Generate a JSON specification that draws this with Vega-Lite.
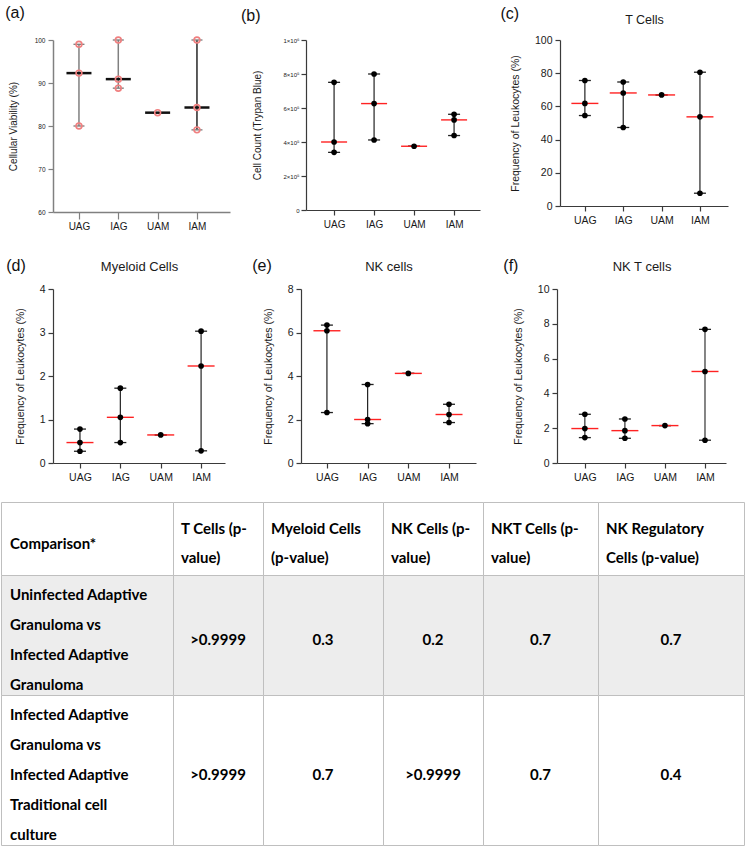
{
"$schema": "https://vega.github.io/schema/vega-lite/v6.json",
"padding": {"left": 0, "top": 4, "right": 0, "bottom": 0},
"background": "white",
"config": {
 "view": {"stroke": null},
 "font": "Liberation Sans",
 "axis": {"grid": false, "labelFont": "Liberation Sans", "titleFont": "Liberation Sans", "titleFontWeight": "normal", "labelColor": "#1a1a1a", "titleColor": "#1a1a1a", "domainColor": "#3a3a3a", "tickColor": "#3a3a3a", "domainWidth": 1.2, "tickWidth": 1.2},
 "axisX": {"labelAngle": 0, "labelFontSize": 10.5, "tickSize": 5, "labelPadding": 4},
 "axisY": {"labelFontSize": 10.5, "titleFontSize": 10.5, "tickSize": 5, "labelPadding": 3, "titlePadding": 14, "tickCount": 12},
 "title": {"font": "Liberation Sans", "fontWeight": "normal", "fontSize": 16, "anchor": "start", "frame": "bounds", "color": "#111"}
},
"spacing": 18,
"vconcat": [
 {"spacing": 27, "vconcat": [
  {"hconcat": [
   {"width": 52, "height": 10, "data": {"values": []}, "mark": {"type": "point", "opacity": 0}},
   {"width": 177, "height": 172,
    "title": {"text": "(a)", "offset": 15, "dx": -3, "dy": 2},
    "data": {"values": [{"g":"UAG","v":99},{"g":"UAG","v":92.3},{"g":"UAG","v":80},{"g":"IAG","v":100},{"g":"IAG","v":90.9},{"g":"IAG","v":88.8},{"g":"UAM","v":83.1},{"g":"IAM","v":100},{"g":"IAM","v":84.3},{"g":"IAM","v":79.1}]},
    "layer": [
     {"mark": {"type": "rule", "strokeWidth": 1.5},
      "encoding": {"x": {"field":"g","type":"nominal","sort":["UAG","IAG","UAM","IAM"],"title":null,"scale":{"type":"point","padding":0.75,"align":0.44},"axis":{"labelFontSize":10,"tickSize":7,"labelPadding":2,"domainColor":"#808080","tickColor":"#808080","domainWidth":1.5}},
       "y": {"aggregate":"min","field":"v","type":"quantitative","title":"Cellular Viability (%)","scale":{"domain":[60,100],"nice":false,"zero":false},"axis":{"values":[60,70,80,90,100],"format":"d","labelFontSize":6.5,"titleFontSize":10,"titlePadding":16,"domainColor":"#808080","tickColor":"#808080","domainWidth":1.5}},
       "y2": {"aggregate":"max","field":"v"},
       "color": {"field":"g","type":"nominal","scale":{"domain":["UAG","IAG","UAM","IAM"],"range":["#808080","#808080","#808080","#262626"]},"legend":null}}},
     {"mark": {"type": "tick", "color": "#7a7a7a", "size": 11, "thickness": 1.3},
      "encoding": {"x": {"field":"g","type":"nominal","sort":["UAG","IAG","UAM","IAM"],"title":null,"scale":{"type":"point","padding":0.75,"align":0.44}},
       "y": {"aggregate":"min","field":"v","type":"quantitative","title":"Cellular Viability (%)","scale":{"domain":[60,100],"nice":false,"zero":false}}}},
     {"mark": {"type": "tick", "color": "#7a7a7a", "size": 11, "thickness": 1.3},
      "encoding": {"x": {"field":"g","type":"nominal","sort":["UAG","IAG","UAM","IAM"],"title":null,"scale":{"type":"point","padding":0.75,"align":0.44}},
       "y": {"aggregate":"max","field":"v","type":"quantitative","title":"Cellular Viability (%)","scale":{"domain":[60,100],"nice":false,"zero":false}}}},
     {"mark": {"type": "tick", "color": "#111", "size": 25, "thickness": 2.5},
      "encoding": {"x": {"field":"g","type":"nominal","sort":["UAG","IAG","UAM","IAM"],"title":null,"scale":{"type":"point","padding":0.75,"align":0.44}},
       "y": {"aggregate":"median","field":"v","type":"quantitative","title":"Cellular Viability (%)","scale":{"domain":[60,100],"nice":false,"zero":false}}}},
     {"mark": {"type": "point", "shape": "circle", "filled": false, "color": "#f08080", "strokeWidth": 1.6, "size": 34, "opacity": 1},
      "encoding": {"x": {"field":"g","type":"nominal","sort":["UAG","IAG","UAM","IAM"],"title":null,"scale":{"type":"point","padding":0.75,"align":0.44}},
       "y": {"field":"v","type":"quantitative","title":"Cellular Viability (%)","scale":{"domain":[60,100],"nice":false,"zero":false}}}}
    ]},
   {"width": 76, "height": 10, "data": {"values": []}, "mark": {"type": "point", "opacity": 0}},
   {"width": 174, "height": 170,
    "title": {"text": "(b)", "offset": 15, "dx": -12, "dy": 2},
    "data": {"values": [{"g":"UAG","v":751000},{"g":"UAG","v":400000},{"g":"UAG","v":339000},{"g":"IAG","v":800000},{"g":"IAG","v":626000},{"g":"IAG","v":412000},{"g":"UAM","v":375000},{"g":"IAM","v":563000},{"g":"IAM","v":530000},{"g":"IAM","v":438000}]},
    "layer": [
     {"mark": {"type": "rule", "color": "#222", "strokeWidth": 1.2},
      "encoding": {"x": {"field":"g","type":"nominal","sort":["UAG","IAG","UAM","IAM"],"title":null,"scale":{"type":"point","padding":0.675,"align":0.52},"axis":{"labelFontSize":10,"tickSize":5,"labelPadding":4}},
       "y": {"aggregate":"min","field":"v","type":"quantitative","title":"Cell Count (Trypan Blue)","scale":{"domain":[0,1000000],"nice":false},"axis":{"values":[0,200000,400000,600000,800000,1000000],"labelExpr":"datum.value == 0 ? '0' : datum.value == 1000000 ? '1×10⁶' : (datum.value/100000) + '×10⁵'","labelFontSize":6,"titleFontSize":10,"titlePadding":20,"labelPadding":2}},
       "y2": {"aggregate":"max","field":"v"}}},
     {"mark": {"type": "tick", "color": "#222", "size": 12, "thickness": 1.3},
      "encoding": {"x": {"field":"g","type":"nominal","sort":["UAG","IAG","UAM","IAM"],"title":null,"scale":{"type":"point","padding":0.675,"align":0.52}},
       "y": {"aggregate":"min","field":"v","type":"quantitative","title":"Cell Count (Trypan Blue)","scale":{"domain":[0,1000000],"nice":false}}}},
     {"mark": {"type": "tick", "color": "#222", "size": 12, "thickness": 1.3},
      "encoding": {"x": {"field":"g","type":"nominal","sort":["UAG","IAG","UAM","IAM"],"title":null,"scale":{"type":"point","padding":0.675,"align":0.52}},
       "y": {"aggregate":"max","field":"v","type":"quantitative","title":"Cell Count (Trypan Blue)","scale":{"domain":[0,1000000],"nice":false}}}},
     {"mark": {"type": "tick", "color": "#f22", "size": 26, "thickness": 1.4},
      "encoding": {"x": {"field":"g","type":"nominal","sort":["UAG","IAG","UAM","IAM"],"title":null,"scale":{"type":"point","padding":0.675,"align":0.52}},
       "y": {"aggregate":"median","field":"v","type":"quantitative","title":"Cell Count (Trypan Blue)","scale":{"domain":[0,1000000],"nice":false}}}},
     {"mark": {"type": "circle", "color": "#000", "size": 32, "opacity": 1},
      "encoding": {"x": {"field":"g","type":"nominal","sort":["UAG","IAG","UAM","IAM"],"title":null,"scale":{"type":"point","padding":0.675,"align":0.52}},
       "y": {"field":"v","type":"quantitative","title":"Cell Count (Trypan Blue)","scale":{"domain":[0,1000000],"nice":false}}}}
    ]},
   {"width": 80, "height": 10, "data": {"values": []}, "mark": {"type": "point", "opacity": 0}},
   {"width": 168, "height": 166,
    "title": {"text": "(c)", "offset": 0, "dy": 9, "dx": -10},
    "data": {"values": [{"g":"UAG","v":75.6},{"g":"UAG","v":61.8},{"g":"UAG","v":54.5},{"g":"IAG","v":74.7},{"g":"IAG","v":68.1},{"g":"IAG","v":47.3},{"g":"UAM","v":66.9},{"g":"IAM","v":80.6},{"g":"IAM","v":53.7},{"g":"IAM","v":7.7}]},
    "resolve": {"axis": {"x": "independent"}},
    "layer": [
     {"mark": {"type": "rule", "color": "#222", "strokeWidth": 1.2},
      "encoding": {"x": {"field":"g","type":"nominal","sort":["UAG","IAG","UAM","IAM"],"title":null,"scale":{"type":"point","padding":0.69,"align":0.47}},
       "y": {"aggregate":"min","field":"v","type":"quantitative","title":"Frequency of Leukocytes (%)","scale":{"domain":[0,100],"nice":false},"axis":{"values":[0,20,40,60,80,100],"format":"d"}},
       "y2": {"aggregate":"max","field":"v"}}},
     {"mark": {"type": "tick", "color": "#222", "size": 12, "thickness": 1.3},
      "encoding": {"x": {"field":"g","type":"nominal","sort":["UAG","IAG","UAM","IAM"],"title":null,"scale":{"type":"point","padding":0.69,"align":0.47},"axis":null},
       "y": {"aggregate":"min","field":"v","type":"quantitative","title":"Frequency of Leukocytes (%)","scale":{"domain":[0,100],"nice":false}}}},
     {"mark": {"type": "tick", "color": "#222", "size": 12, "thickness": 1.3},
      "encoding": {"x": {"field":"g","type":"nominal","sort":["UAG","IAG","UAM","IAM"],"title":null,"scale":{"type":"point","padding":0.69,"align":0.47},"axis":null},
       "y": {"aggregate":"max","field":"v","type":"quantitative","title":"Frequency of Leukocytes (%)","scale":{"domain":[0,100],"nice":false}}}},
     {"mark": {"type": "tick", "color": "#f22", "size": 27, "thickness": 1.4},
      "encoding": {"x": {"field":"g","type":"nominal","sort":["UAG","IAG","UAM","IAM"],"title":null,"scale":{"type":"point","padding":0.69,"align":0.47},"axis":{"orient":"top","title":"T Cells","labels":false,"ticks":false,"domain":false,"titleFontSize":12.5,"titlePadding":14}},
       "y": {"aggregate":"median","field":"v","type":"quantitative","title":"Frequency of Leukocytes (%)","scale":{"domain":[0,100],"nice":false}}}},
     {"mark": {"type": "circle", "color": "#000", "size": 32, "opacity": 1},
      "encoding": {"x": {"field":"g","type":"nominal","sort":["UAG","IAG","UAM","IAM"],"title":null,"scale":{"type":"point","padding":0.69,"align":0.47},"axis":null},
       "y": {"field":"v","type":"quantitative","title":"Frequency of Leukocytes (%)","scale":{"domain":[0,100],"nice":false}}}}
    ]}
  ], "spacing": 0, "bounds": "flush"},
  {"hconcat": [
   {"width": 52, "height": 10, "data": {"values": []}, "mark": {"type": "point", "opacity": 0}},
   {"width": 172, "height": 174,
    "title": {"text": "(d)", "offset": 0, "dy": 14, "dx": -9},
    "data": {"values": [{"g":"UAG","v":0.78},{"g":"UAG","v":0.47},{"g":"UAG","v":0.27},{"g":"IAG","v":1.72},{"g":"IAG","v":1.05},{"g":"IAG","v":0.47},{"g":"UAM","v":0.645},{"g":"IAM","v":3.03},{"g":"IAM","v":2.23},{"g":"IAM","v":0.28}]},
    "resolve": {"axis": {"x": "independent"}},
    "layer": [
     {"mark": {"type": "rule", "color": "#222", "strokeWidth": 1.2},
      "encoding": {"x": {"field":"g","type":"nominal","sort":["UAG","IAG","UAM","IAM"],"title":null,"scale":{"type":"point","padding":0.63,"align":0.53}},
       "y": {"aggregate":"min","field":"v","type":"quantitative","title":"Frequency of Leukocytes (%)","scale":{"domain":[0,4],"nice":false},"axis":{"values":[0,1,2,3,4],"format":"d"}},
       "y2": {"aggregate":"max","field":"v"}}},
     {"mark": {"type": "tick", "color": "#222", "size": 12, "thickness": 1.3},
      "encoding": {"x": {"field":"g","type":"nominal","sort":["UAG","IAG","UAM","IAM"],"title":null,"scale":{"type":"point","padding":0.63,"align":0.53},"axis":null},
       "y": {"aggregate":"min","field":"v","type":"quantitative","title":"Frequency of Leukocytes (%)","scale":{"domain":[0,4],"nice":false}}}},
     {"mark": {"type": "tick", "color": "#222", "size": 12, "thickness": 1.3},
      "encoding": {"x": {"field":"g","type":"nominal","sort":["UAG","IAG","UAM","IAM"],"title":null,"scale":{"type":"point","padding":0.63,"align":0.53},"axis":null},
       "y": {"aggregate":"max","field":"v","type":"quantitative","title":"Frequency of Leukocytes (%)","scale":{"domain":[0,4],"nice":false}}}},
     {"mark": {"type": "tick", "color": "#f22", "size": 27, "thickness": 1.4},
      "encoding": {"x": {"field":"g","type":"nominal","sort":["UAG","IAG","UAM","IAM"],"title":null,"scale":{"type":"point","padding":0.63,"align":0.53},"axis":{"orient":"top","title":"Myeloid Cells","labels":false,"ticks":false,"domain":false,"titleFontSize":13,"titlePadding":16}},
       "y": {"aggregate":"median","field":"v","type":"quantitative","title":"Frequency of Leukocytes (%)","scale":{"domain":[0,4],"nice":false}}}},
     {"mark": {"type": "circle", "color": "#000", "size": 32, "opacity": 1},
      "encoding": {"x": {"field":"g","type":"nominal","sort":["UAG","IAG","UAM","IAM"],"title":null,"scale":{"type":"point","padding":0.63,"align":0.53},"axis":null},
       "y": {"field":"v","type":"quantitative","title":"Frequency of Leukocytes (%)","scale":{"domain":[0,4],"nice":false}}}}
    ]},
   {"width": 76, "height": 10, "data": {"values": []}, "mark": {"type": "point", "opacity": 0}},
   {"width": 175, "height": 174,
    "title": {"text": "(e)", "offset": 0, "dy": 14, "dx": -11},
    "data": {"values": [{"g":"UAG","v":6.34},{"g":"UAG","v":6.08},{"g":"UAG","v":2.32},{"g":"IAG","v":3.61},{"g":"IAG","v":2.0},{"g":"IAG","v":1.81},{"g":"UAM","v":4.12},{"g":"IAM","v":2.7},{"g":"IAM","v":2.23},{"g":"IAM","v":1.86}]},
    "resolve": {"axis": {"x": "independent"}},
    "layer": [
     {"mark": {"type": "rule", "color": "#222", "strokeWidth": 1.2},
      "encoding": {"x": {"field":"g","type":"nominal","sort":["UAG","IAG","UAM","IAM"],"title":null,"scale":{"type":"point","padding":0.65,"align":0.49}},
       "y": {"aggregate":"min","field":"v","type":"quantitative","title":"Frequency of Leukocytes (%)","scale":{"domain":[0,8],"nice":false},"axis":{"values":[0,2,4,6,8],"format":"d"}},
       "y2": {"aggregate":"max","field":"v"}}},
     {"mark": {"type": "tick", "color": "#222", "size": 12, "thickness": 1.3},
      "encoding": {"x": {"field":"g","type":"nominal","sort":["UAG","IAG","UAM","IAM"],"title":null,"scale":{"type":"point","padding":0.65,"align":0.49},"axis":null},
       "y": {"aggregate":"min","field":"v","type":"quantitative","title":"Frequency of Leukocytes (%)","scale":{"domain":[0,8],"nice":false}}}},
     {"mark": {"type": "tick", "color": "#222", "size": 12, "thickness": 1.3},
      "encoding": {"x": {"field":"g","type":"nominal","sort":["UAG","IAG","UAM","IAM"],"title":null,"scale":{"type":"point","padding":0.65,"align":0.49},"axis":null},
       "y": {"aggregate":"max","field":"v","type":"quantitative","title":"Frequency of Leukocytes (%)","scale":{"domain":[0,8],"nice":false}}}},
     {"mark": {"type": "tick", "color": "#f22", "size": 27, "thickness": 1.4},
      "encoding": {"x": {"field":"g","type":"nominal","sort":["UAG","IAG","UAM","IAM"],"title":null,"scale":{"type":"point","padding":0.65,"align":0.49},"axis":{"orient":"top","title":"NK cells","labels":false,"ticks":false,"domain":false,"titleFontSize":13,"titlePadding":16}},
       "y": {"aggregate":"median","field":"v","type":"quantitative","title":"Frequency of Leukocytes (%)","scale":{"domain":[0,8],"nice":false}}}},
     {"mark": {"type": "circle", "color": "#000", "size": 32, "opacity": 1},
      "encoding": {"x": {"field":"g","type":"nominal","sort":["UAG","IAG","UAM","IAM"],"title":null,"scale":{"type":"point","padding":0.65,"align":0.49},"axis":null},
       "y": {"field":"v","type":"quantitative","title":"Frequency of Leukocytes (%)","scale":{"domain":[0,8],"nice":false}}}}
    ]},
   {"width": 81, "height": 10, "data": {"values": []}, "mark": {"type": "point", "opacity": 0}},
   {"width": 169, "height": 174,
    "title": {"text": "(f)", "offset": 0, "dy": 14, "dx": -10},
    "data": {"values": [{"g":"UAG","v":2.8},{"g":"UAG","v":1.98},{"g":"UAG","v":1.46},{"g":"IAG","v":2.53},{"g":"IAG","v":1.86},{"g":"IAG","v":1.42},{"g":"UAM","v":2.15},{"g":"IAM","v":7.68},{"g":"IAM","v":5.26},{"g":"IAM","v":1.31}]},
    "resolve": {"axis": {"x": "independent"}},
    "layer": [
     {"mark": {"type": "rule", "color": "#333", "strokeWidth": 1.2},
      "encoding": {"x": {"field":"g","type":"nominal","sort":["UAG","IAG","UAM","IAM"],"title":null,"scale":{"type":"point","padding":0.61,"align":0.57}},
       "y": {"aggregate":"min","field":"v","type":"quantitative","title":"Frequency of Leukocytes (%)","scale":{"domain":[0,10],"nice":false},"axis":{"values":[0,2,4,6,8,10],"format":"d"}},
       "y2": {"aggregate":"max","field":"v"}}},
     {"mark": {"type": "tick", "color": "#222", "size": 12, "thickness": 1.3},
      "encoding": {"x": {"field":"g","type":"nominal","sort":["UAG","IAG","UAM","IAM"],"title":null,"scale":{"type":"point","padding":0.61,"align":0.57},"axis":null},
       "y": {"aggregate":"min","field":"v","type":"quantitative","title":"Frequency of Leukocytes (%)","scale":{"domain":[0,10],"nice":false}}}},
     {"mark": {"type": "tick", "color": "#222", "size": 12, "thickness": 1.3},
      "encoding": {"x": {"field":"g","type":"nominal","sort":["UAG","IAG","UAM","IAM"],"title":null,"scale":{"type":"point","padding":0.61,"align":0.57},"axis":null},
       "y": {"aggregate":"max","field":"v","type":"quantitative","title":"Frequency of Leukocytes (%)","scale":{"domain":[0,10],"nice":false}}}},
     {"mark": {"type": "tick", "color": "#f22", "size": 27, "thickness": 1.4},
      "encoding": {"x": {"field":"g","type":"nominal","sort":["UAG","IAG","UAM","IAM"],"title":null,"scale":{"type":"point","padding":0.61,"align":0.57},"axis":{"orient":"top","title":"NK T cells","labels":false,"ticks":false,"domain":false,"titleFontSize":13,"titlePadding":16}},
       "y": {"aggregate":"median","field":"v","type":"quantitative","title":"Frequency of Leukocytes (%)","scale":{"domain":[0,10],"nice":false}}}},
     {"mark": {"type": "circle", "color": "#000", "size": 32, "opacity": 1},
      "encoding": {"x": {"field":"g","type":"nominal","sort":["UAG","IAG","UAM","IAM"],"title":null,"scale":{"type":"point","padding":0.61,"align":0.57},"axis":null},
       "y": {"field":"v","type":"quantitative","title":"Frequency of Leukocytes (%)","scale":{"domain":[0,10],"nice":false}}}}
    ]}
  ], "spacing": 0, "bounds": "flush"}
 ]},
 {"concat": [
  {"width": 172, "height": 73, "view": {"fill": "#ffffff", "stroke": "#bfbfbf"},
   "data": {"values": [{"l":0,"t":"Comparison*"}]},
   "mark": {"type":"text","align":"left","baseline":"middle","dx":9,"dy":5,"font":"Lato","fontSize":15,"fontWeight":"bold","color":"#000"},
   "encoding": {"x":{"datum":"a","type":"nominal","scale":{"type":"point","align":0},"axis":null},"y":{"field":"l","type":"ordinal","scale":{"type":"point","padding":0.72},"axis":null},"text":{"field":"t"}}},
  {"width": 90, "height": 73, "view": {"fill": "#ffffff", "stroke": "#bfbfbf"},
   "data": {"values": [{"l":0,"t":"T Cells (p-"},{"l":1,"t":"value)"}]},
   "mark": {"type":"text","align":"left","baseline":"middle","dx":8,"dy":5,"font":"Lato","fontSize":15,"fontWeight":"bold","color":"#000"},
   "encoding": {"x":{"datum":"a","type":"nominal","scale":{"type":"point","align":0},"axis":null},"y":{"field":"l","type":"ordinal","scale":{"type":"point","padding":0.72},"axis":null},"text":{"field":"t"}}},
  {"width": 120, "height": 73, "view": {"fill": "#ffffff", "stroke": "#bfbfbf"},
   "data": {"values": [{"l":0,"t":"Myeloid Cells"},{"l":1,"t":"(p-value)"}]},
   "mark": {"type":"text","align":"left","baseline":"middle","dx":8,"dy":5,"font":"Lato","fontSize":15,"fontWeight":"bold","color":"#000"},
   "encoding": {"x":{"datum":"a","type":"nominal","scale":{"type":"point","align":0},"axis":null},"y":{"field":"l","type":"ordinal","scale":{"type":"point","padding":0.72},"axis":null},"text":{"field":"t"}}},
  {"width": 100, "height": 73, "view": {"fill": "#ffffff", "stroke": "#bfbfbf"},
   "data": {"values": [{"l":0,"t":"NK Cells (p-"},{"l":1,"t":"value)"}]},
   "mark": {"type":"text","align":"left","baseline":"middle","dx":8,"dy":5,"font":"Lato","fontSize":15,"fontWeight":"bold","color":"#000"},
   "encoding": {"x":{"datum":"a","type":"nominal","scale":{"type":"point","align":0},"axis":null},"y":{"field":"l","type":"ordinal","scale":{"type":"point","padding":0.72},"axis":null},"text":{"field":"t"}}},
  {"width": 115, "height": 73, "view": {"fill": "#ffffff", "stroke": "#bfbfbf"},
   "data": {"values": [{"l":0,"t":"NKT Cells (p-"},{"l":1,"t":"value)"}]},
   "mark": {"type":"text","align":"left","baseline":"middle","dx":8,"dy":5,"font":"Lato","fontSize":15,"fontWeight":"bold","color":"#000"},
   "encoding": {"x":{"datum":"a","type":"nominal","scale":{"type":"point","align":0},"axis":null},"y":{"field":"l","type":"ordinal","scale":{"type":"point","padding":0.72},"axis":null},"text":{"field":"t"}}},
  {"width": 146, "height": 73, "view": {"fill": "#ffffff", "stroke": "#bfbfbf"},
   "data": {"values": [{"l":0,"t":"NK Regulatory"},{"l":1,"t":"Cells (p-value)"}]},
   "mark": {"type":"text","align":"left","baseline":"middle","dx":8,"dy":5,"font":"Lato","fontSize":15,"fontWeight":"bold","color":"#000"},
   "encoding": {"x":{"datum":"a","type":"nominal","scale":{"type":"point","align":0},"axis":null},"y":{"field":"l","type":"ordinal","scale":{"type":"point","padding":0.72},"axis":null},"text":{"field":"t"}}},

  {"width": 172, "height": 120, "view": {"fill": "#ededed", "stroke": "#bfbfbf"},
   "data": {"values": [{"l":0,"t":"Uninfected Adaptive"},{"l":1,"t":"Granuloma vs"},{"l":2,"t":"Infected Adaptive"},{"l":3,"t":"Granuloma"}]},
   "mark": {"type":"text","align":"left","baseline":"middle","dx":9,"dy":5,"font":"Lato","fontSize":15,"fontWeight":"bold","color":"#000"},
   "encoding": {"x":{"datum":"a","type":"nominal","scale":{"type":"point","align":0},"axis":null},"y":{"field":"l","type":"ordinal","scale":{"type":"point","padding":0.5},"axis":null},"text":{"field":"t"}}},
  {"width": 90, "height": 120, "view": {"fill": "#ededed", "stroke": "#bfbfbf"},
   "data": {"values": [{"l":0,"t":">0.9999"}]},
   "mark": {"type":"text","align":"center","baseline":"middle","dy":5,"font":"Lato","fontSize":15,"fontWeight":"bold","color":"#000"},
   "encoding": {"x":{"datum":"a","type":"nominal","scale":{"type":"point"},"axis":null},"y":{"field":"l","type":"ordinal","scale":{"type":"point"},"axis":null},"text":{"field":"t"}}},
  {"width": 120, "height": 120, "view": {"fill": "#ededed", "stroke": "#bfbfbf"},
   "data": {"values": [{"l":0,"t":"0.3"}]},
   "mark": {"type":"text","align":"center","baseline":"middle","dy":5,"font":"Lato","fontSize":15,"fontWeight":"bold","color":"#000"},
   "encoding": {"x":{"datum":"a","type":"nominal","scale":{"type":"point"},"axis":null},"y":{"field":"l","type":"ordinal","scale":{"type":"point"},"axis":null},"text":{"field":"t"}}},
  {"width": 100, "height": 120, "view": {"fill": "#ededed", "stroke": "#bfbfbf"},
   "data": {"values": [{"l":0,"t":"0.2"}]},
   "mark": {"type":"text","align":"center","baseline":"middle","dy":5,"font":"Lato","fontSize":15,"fontWeight":"bold","color":"#000"},
   "encoding": {"x":{"datum":"a","type":"nominal","scale":{"type":"point"},"axis":null},"y":{"field":"l","type":"ordinal","scale":{"type":"point"},"axis":null},"text":{"field":"t"}}},
  {"width": 115, "height": 120, "view": {"fill": "#ededed", "stroke": "#bfbfbf"},
   "data": {"values": [{"l":0,"t":"0.7"}]},
   "mark": {"type":"text","align":"center","baseline":"middle","dy":5,"font":"Lato","fontSize":15,"fontWeight":"bold","color":"#000"},
   "encoding": {"x":{"datum":"a","type":"nominal","scale":{"type":"point"},"axis":null},"y":{"field":"l","type":"ordinal","scale":{"type":"point"},"axis":null},"text":{"field":"t"}}},
  {"width": 146, "height": 120, "view": {"fill": "#ededed", "stroke": "#bfbfbf"},
   "data": {"values": [{"l":0,"t":"0.7"}]},
   "mark": {"type":"text","align":"center","baseline":"middle","dy":5,"font":"Lato","fontSize":15,"fontWeight":"bold","color":"#000"},
   "encoding": {"x":{"datum":"a","type":"nominal","scale":{"type":"point"},"axis":null},"y":{"field":"l","type":"ordinal","scale":{"type":"point"},"axis":null},"text":{"field":"t"}}},

  {"width": 172, "height": 150, "view": {"fill": "#ffffff", "stroke": "#bfbfbf"},
   "data": {"values": [{"l":0,"t":"Infected Adaptive"},{"l":1,"t":"Granuloma vs"},{"l":2,"t":"Infected Adaptive"},{"l":3,"t":"Traditional cell"},{"l":4,"t":"culture"}]},
   "mark": {"type":"text","align":"left","baseline":"middle","dx":9,"dy":5,"font":"Lato","fontSize":15,"fontWeight":"bold","color":"#000"},
   "encoding": {"x":{"datum":"a","type":"nominal","scale":{"type":"point","align":0},"axis":null},"y":{"field":"l","type":"ordinal","scale":{"type":"point","padding":0.5},"axis":null},"text":{"field":"t"}}},
  {"width": 90, "height": 150, "view": {"fill": "#ffffff", "stroke": "#bfbfbf"},
   "data": {"values": [{"l":0,"t":">0.9999"}]},
   "mark": {"type":"text","align":"center","baseline":"middle","dy":5,"font":"Lato","fontSize":15,"fontWeight":"bold","color":"#000"},
   "encoding": {"x":{"datum":"a","type":"nominal","scale":{"type":"point"},"axis":null},"y":{"field":"l","type":"ordinal","scale":{"type":"point"},"axis":null},"text":{"field":"t"}}},
  {"width": 120, "height": 150, "view": {"fill": "#ffffff", "stroke": "#bfbfbf"},
   "data": {"values": [{"l":0,"t":"0.7"}]},
   "mark": {"type":"text","align":"center","baseline":"middle","dy":5,"font":"Lato","fontSize":15,"fontWeight":"bold","color":"#000"},
   "encoding": {"x":{"datum":"a","type":"nominal","scale":{"type":"point"},"axis":null},"y":{"field":"l","type":"ordinal","scale":{"type":"point"},"axis":null},"text":{"field":"t"}}},
  {"width": 100, "height": 150, "view": {"fill": "#ffffff", "stroke": "#bfbfbf"},
   "data": {"values": [{"l":0,"t":">0.9999"}]},
   "mark": {"type":"text","align":"center","baseline":"middle","dy":5,"font":"Lato","fontSize":15,"fontWeight":"bold","color":"#000"},
   "encoding": {"x":{"datum":"a","type":"nominal","scale":{"type":"point"},"axis":null},"y":{"field":"l","type":"ordinal","scale":{"type":"point"},"axis":null},"text":{"field":"t"}}},
  {"width": 115, "height": 150, "view": {"fill": "#ffffff", "stroke": "#bfbfbf"},
   "data": {"values": [{"l":0,"t":"0.7"}]},
   "mark": {"type":"text","align":"center","baseline":"middle","dy":5,"font":"Lato","fontSize":15,"fontWeight":"bold","color":"#000"},
   "encoding": {"x":{"datum":"a","type":"nominal","scale":{"type":"point"},"axis":null},"y":{"field":"l","type":"ordinal","scale":{"type":"point"},"axis":null},"text":{"field":"t"}}},
  {"width": 146, "height": 150, "view": {"fill": "#ffffff", "stroke": "#bfbfbf"},
   "data": {"values": [{"l":0,"t":"0.4"}]},
   "mark": {"type":"text","align":"center","baseline":"middle","dy":5,"font":"Lato","fontSize":15,"fontWeight":"bold","color":"#000"},
   "encoding": {"x":{"datum":"a","type":"nominal","scale":{"type":"point"},"axis":null},"y":{"field":"l","type":"ordinal","scale":{"type":"point"},"axis":null},"text":{"field":"t"}}}
 ], "columns": 6, "spacing": 0, "bounds": "flush"}
]
}
